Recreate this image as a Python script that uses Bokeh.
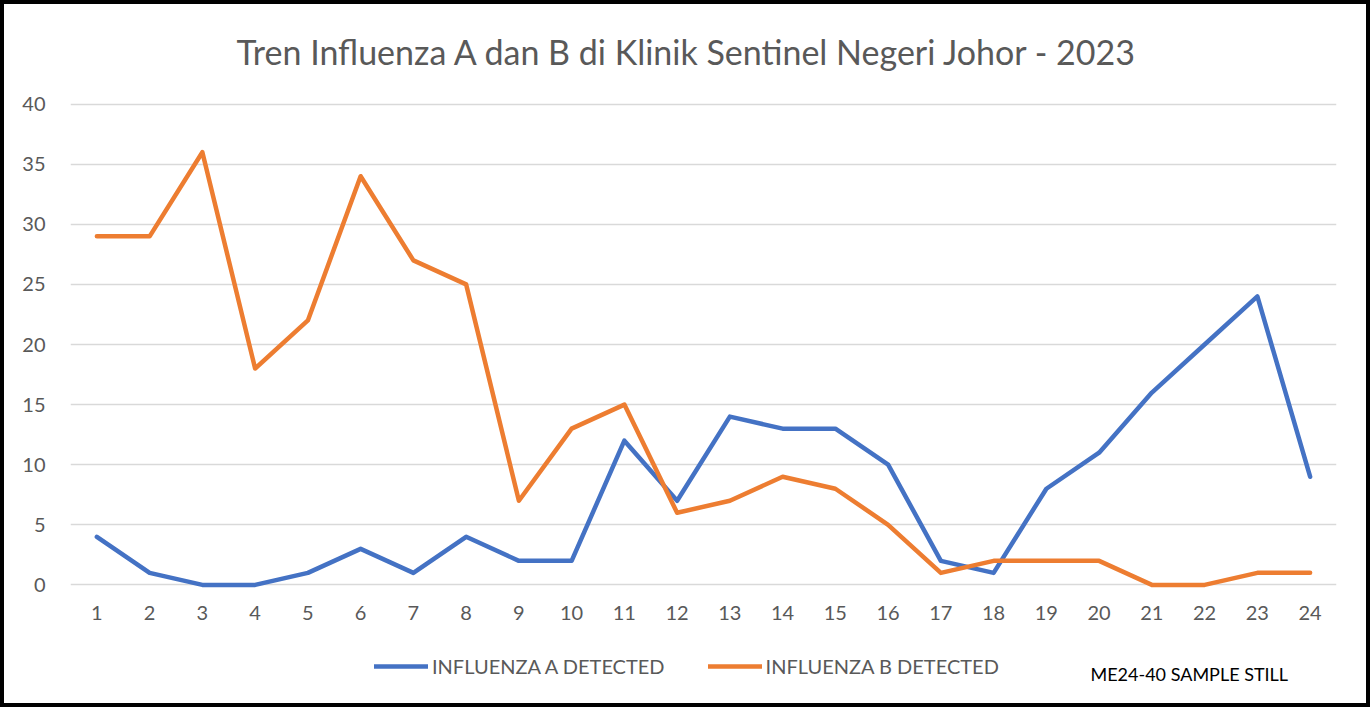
from bokeh.plotting import figure
from bokeh.layouts import column
from bokeh.models import Legend, LegendItem, FixedTicker, Range1d, Label
from bokeh.embed import file_html
from bokeh.resources import INLINE

weeks = [str(i) for i in range(1, 25)]
flu_a = [4, 1, 0, 0, 1, 3, 1, 4, 2, 2, 12, 7, 14, 13, 13, 10, 2, 1, 8, 11, 16, 20, 24, 9]
flu_b = [29, 29, 36, 18, 22, 34, 27, 25, 7, 13, 15, 6, 7, 9, 8, 5, 1, 2, 2, 2, 0, 0, 1, 1]
y_ticks = [0, 5, 10, 15, 20, 25, 30, 35, 40]
series_names = ["INFLUENZA A DETECTED", "INFLUENZA B DETECTED"]
series_colors = ["#4472C4", "#ED7D31"]
title_text = "Tren Influenza A dan B di Klinik Sentinel Negeri Johor - 2023"
note_text = "ME24-40 SAMPLE STILL"

FONT = "Lato"
GREY = "#595959"
W = 1370
H_MAIN = 640
H_LEG = 67

p = figure(width=W, height=H_MAIN, x_range=weeks, y_range=Range1d(-0.3, 40.3),
           output_backend="svg", toolbar_location=None,
           min_border_left=70, min_border_right=34, min_border_top=100, min_border_bottom=52,
           title=title_text)
p.outline_line_color = None
p.background_fill_color = "white"
p.border_fill_alpha = 0

p.title.align = "left"
p.title.offset = 166
p.title.text_font = FONT
p.title.text_font_size = "34px"
p.title.text_font_style = "normal"
p.title.text_color = GREY
p.title.standoff = 57

p.xgrid.grid_line_color = None
p.ygrid.grid_line_color = "#D9D9D9"
p.ygrid.grid_line_width = 1.5
p.yaxis.ticker = FixedTicker(ticks=y_ticks)

for ax in (p.xaxis, p.yaxis):
    ax.axis_line_color = None
    ax.major_tick_line_color = None
    ax.minor_tick_line_color = None
    ax.major_label_text_font = FONT
    ax.major_label_text_font_size = "20px"
    ax.major_label_text_color = GREY
p.yaxis.major_label_standoff = 19
p.xaxis.major_label_standoff = 11

p.line(weeks, flu_a, line_color=series_colors[0], line_width=4.5, line_join="round", line_cap="round")
p.line(weeks, flu_b, line_color=series_colors[1], line_width=4.5, line_join="round", line_cap="round")

# legend strip (separate canvas so the legend is not clipped by the plot frame)
pl = figure(width=W, height=H_LEG, x_range=Range1d(0, 1), y_range=Range1d(0, 1),
            x_axis_type=None, y_axis_type=None, output_backend="svg", toolbar_location=None,
            min_border=0)
pl.outline_line_color = None
pl.grid.grid_line_color = None
pl.background_fill_alpha = 0
pl.border_fill_alpha = 0
# legend proxies, kept outside the visible range
la = pl.line([-5, -4], [-5, -5], line_color=series_colors[0], line_width=4.5, line_cap="round")
lb = pl.line([-5, -4], [-5, -5], line_color=series_colors[1], line_width=4.5, line_cap="round")

legend = Legend(items=[LegendItem(label=series_names[0], renderers=[la]),
                       LegendItem(label=series_names[1], renderers=[lb])],
                orientation="horizontal", location=(304, 29),
                glyph_width=54, glyph_height=20, label_height=20, label_standoff=4,
                spacing=43, padding=0, margin=0,
                label_text_font=FONT, label_text_font_size="20px", label_text_color=GREY,
                border_line_color=None, background_fill_alpha=0)
pl.add_layout(legend, "center")

note = Label(x=1020, y=34, x_units="screen", y_units="screen", text=note_text,
             text_font=FONT, text_font_size="18px", text_color="black",
             text_baseline="middle", text_align="left")
pl.add_layout(note)

layout = column(p, pl, spacing=0)
layout.styles = {"box-shadow": "inset 0 0 0 4px black", "background-color": "white"}

open("out.html", "w").write(file_html(layout, INLINE))
